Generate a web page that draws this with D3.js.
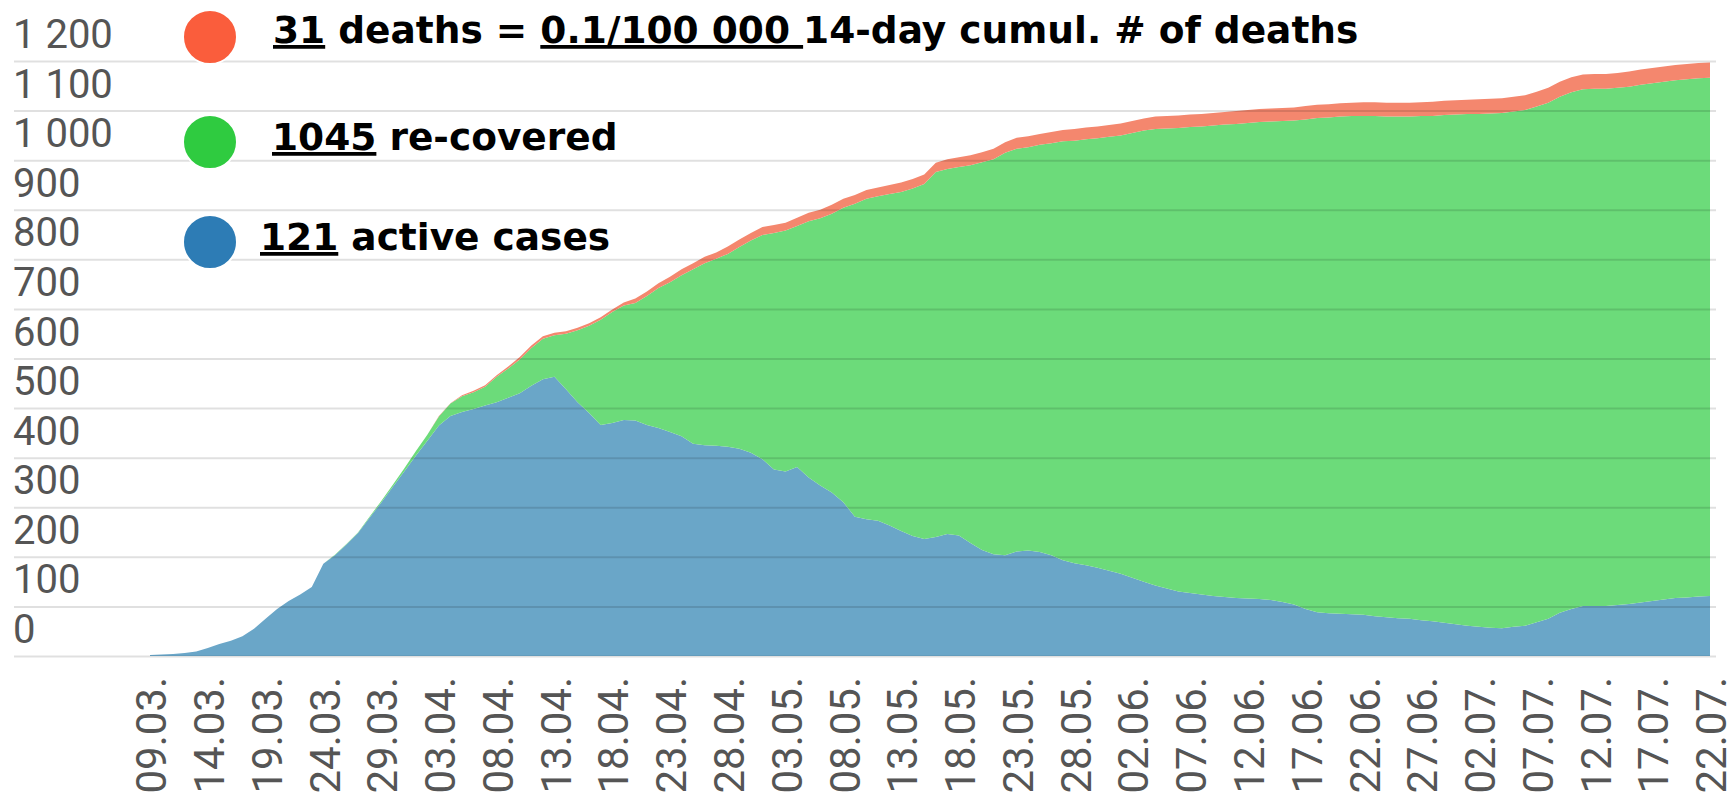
<!DOCTYPE html>
<html>
<head>
<meta charset="utf-8">
<script src="https://cdn.jsdelivr.net/npm/d3@7"></script>
<style>
  html, body { margin: 0; padding: 0; background: #fff; }
  svg { display: block; }
</style>
</head>
<body>
<svg id="chart" width="1736" height="799"></svg>
<script>
// one value per day, 09.03. to 22.07.
var firstDay = "2020-03-09",
  lastDay = "2020-07-22";

var active = [
  2, 3, 4, 6, 9, 16, 24, 31, 40, 55,
  75, 95, 111, 124, 139, 186, 203, 225, 248, 279,
  309, 341, 372, 404, 434, 465, 484, 492, 498, 505,
  512, 521, 530, 545, 558, 563, 538, 512, 490, 466,
  470, 476, 475, 466, 460, 452, 443, 428, 425, 424,
  422, 418, 410, 397, 376, 372, 381, 360, 344, 330,
  310, 281, 276, 273, 263, 252, 242, 236, 240, 246,
  243, 228, 214, 205, 203, 211, 213, 210, 203, 193,
  187, 183, 178, 172, 166, 158, 150, 142, 136, 130,
  127, 124, 121, 119, 117, 116, 115, 113, 109, 104,
  95, 88, 86, 85, 84, 83, 80, 78, 76, 75,
  72, 70, 67, 64, 61, 59, 57, 56, 59, 61,
  68, 75, 87, 95, 101, 101, 101, 103, 105, 108,
  111, 114, 117, 118, 120, 121
];

var recovered = [
  0, 0, 0, 0, 0, 0, 0, 0, 0, 0,
  0, 0, 0, 0, 0, 0, 1, 1, 1, 2,
  3, 4, 6, 9, 12, 18, 25, 32, 34, 38,
  51, 59, 68, 76, 82, 84, 112, 145, 176, 212,
  224, 231, 237, 260, 282, 302, 325, 352, 367, 377,
  389, 407, 428, 452, 477, 486, 486, 517, 539, 562,
  594, 631, 646, 654, 669, 684, 701, 716, 736, 736,
  743, 762, 782, 797, 812, 812, 813, 821, 831, 845,
  852, 859, 866, 875, 884, 897, 910, 921, 928, 935,
  940, 944, 949, 953, 956, 959, 962, 965, 970, 976,
  987, 997, 1000, 1003, 1005, 1006, 1009, 1010, 1012, 1013,
  1017, 1019, 1024, 1028, 1032, 1034, 1037, 1039, 1039, 1040,
  1040, 1041, 1041, 1042, 1042, 1043, 1043, 1043, 1043, 1044,
  1044, 1044, 1044, 1045, 1045, 1045
];

var deaths = [
  0, 0, 0, 0, 0, 0, 0, 0, 0, 0,
  0, 0, 0, 0, 0, 0, 0, 0, 0, 0,
  0, 0, 0, 0, 0, 1, 1, 2, 3, 3,
  3, 4, 5, 5, 5, 5, 5, 5, 5, 5,
  5, 6, 9, 9, 10, 11, 12, 12, 13, 13,
  15, 15, 15, 16, 16, 16, 17, 17, 17, 18,
  18, 18, 18, 18, 18, 19, 19, 19, 19, 20,
  20, 20, 20, 21, 21, 22, 22, 22, 23, 23,
  24, 24, 24, 24, 24, 24, 24, 25, 25, 25,
  25, 25, 25, 25, 26, 26, 26, 26, 26, 26,
  27, 27, 27, 27, 27, 28, 28, 28, 28, 28,
  28, 29, 29, 29, 29, 30, 30, 30, 30, 30,
  30, 30, 30, 30, 30, 30, 30, 30, 31, 31,
  31, 31, 31, 31, 31, 31
];

var seriesKeys = ["active", "recovered", "deaths"];
var seriesColors = ["#6aa6c8", "#6cdb7a", "#f4876e"];
var dotColors = ["#2d7cb5", "#2fcb40", "#fa5d3c"];

var yTicks = [0, 100, 200, 300, 400, 500, 600, 700, 800, 900, 1000, 1100, 1200];
var xTickLabels = [
  "09.03.", "14.03.", "19.03.", "24.03.", "29.03.", "03.04.", "08.04.",
  "13.04.", "18.04.", "23.04.", "28.04.", "03.05.", "08.05.", "13.05.",
  "18.05.", "23.05.", "28.05.", "02.06.", "07.06.", "12.06.", "17.06.",
  "22.06.", "27.06.", "02.07.", "07.07.", "12.07.", "17.07.", "22.07."
];

var svg = d3.select("#chart");
var parseDay = d3.utcParse("%Y-%m-%d");
var parseTick = d3.utcParse("%d.%m.%Y");

var x = d3.scaleUtc()
  .domain([parseDay(firstDay), parseDay(lastDay)])
  .range([150, 1710]);
var y = d3.scaleLinear().domain([0, 1200]).range([656, 61]);

var days = d3.utcDay.range(x.domain()[0], d3.utcDay.offset(x.domain()[1], 1));
var rows = days.map(function (d, i) {
  return { date: d, active: active[i], recovered: recovered[i], deaths: deaths[i] };
});

var stacked = d3.stack().keys(seriesKeys)(rows);

var area = d3.area()
  .x(function (d) { return x(d.data.date); })
  .y0(function (d) { return y(d[0]); })
  .y1(function (d) { return y(d[1]); });

svg.append("g")
  .selectAll("path")
  .data(stacked)
  .enter()
  .append("path")
  .attr("d", area)
  .style("fill", function (d, i) { return seriesColors[i]; });

// gridlines, drawn over the areas
var grid = svg.append("g")
  .attr("transform", "translate(1716,0)")
  .call(d3.axisLeft(y).tickValues(yTicks).tickSize(1702).tickFormat(""));
grid.select(".domain").remove();
grid.selectAll("line")
  .style("stroke", "#000")
  .style("stroke-opacity", 0.12)
  .style("stroke-width", 2);

// y labels sit above their line, left aligned
svg.append("g")
  .selectAll("text")
  .data(yTicks)
  .enter()
  .append("text")
  .attr("x", 13)
  .attr("y", function (d) { return y(d) - 13; })
  .style("font-family", "Roboto")
  .style("font-size", "40px")
  .style("fill", "#555")
  .text(function (d) { return d3.format(",")(d).replace(",", " "); });

// x labels, rotated
var xAxis = svg.append("g")
  .attr("transform", "translate(0,656)")
  .call(d3.axisBottom(x)
    .tickValues(xTickLabels.map(function (s) { return parseTick(s + "2020"); }))
    .tickSize(0)
    .tickFormat(function (d, i) { return xTickLabels[i]; }));
xAxis.select(".domain").remove();
xAxis.selectAll("text")
  .attr("transform", "rotate(-90)")
  .attr("x", -21)
  .attr("y", 1)
  .attr("dy", "0.35em")
  .style("text-anchor", "end")
  .style("font-family", "Roboto")
  .style("font-size", "42px")
  .style("fill", "#555");

// legend
var last = rows.length - 1;
var legend = [
  { cy: 37, tx: 273, ty: 43, color: dotColors[2],
    parts: [[String(deaths[last]), true], [" deaths = ", false], ["0.1/100 000 ", true], ["14-day cumul. # of deaths", false]] },
  { cy: 142, tx: 272, ty: 150, color: dotColors[1],
    parts: [[String(recovered[last]), true], [" re-covered", false]] },
  { cy: 242, tx: 260, ty: 250, color: dotColors[0],
    parts: [[String(active[last]), true], [" active cases", false]] }
];

var lg = svg.append("g");
lg.selectAll("circle")
  .data(legend)
  .enter()
  .append("circle")
  .attr("cx", 210)
  .attr("cy", function (d) { return d.cy; })
  .attr("r", 27)
  .style("fill", function (d) { return d.color; })
  .style("stroke", "#fff")
  .style("stroke-width", 2);

lg.selectAll("text")
  .data(legend)
  .enter()
  .append("text")
  .attr("x", function (d) { return d.tx; })
  .attr("y", function (d) { return d.ty; })
  .style("font-family", "DejaVu Sans")
  .style("font-weight", "bold")
  .style("font-size", "37.5px")
  .style("fill", "#000")
  .style("white-space", "pre")
  .each(function (d) {
    var t = d3.select(this);
    d.parts.forEach(function (p) {
      t.append("tspan")
        .style("text-decoration", p[1] ? "underline" : "none")
        .text(p[0]);
    });
  });
</script>
</body>
</html>
